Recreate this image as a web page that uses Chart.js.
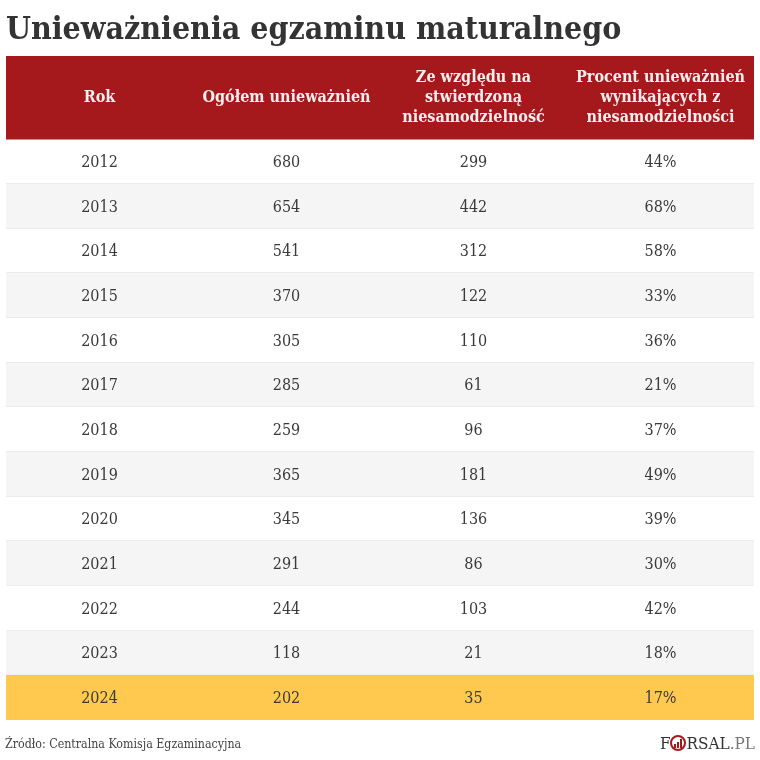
<!DOCTYPE html>
<html lang="pl">
<head>
    <meta charset="UTF-8">
    <title>Unieważnienia egzaminu maturalnego</title>
    <script src="https://cdn.jsdelivr.net/npm/chart.js"></script>
    <style>
        body { margin: 0; background: #fff; font-family: "DejaVu Serif Condensed", "DejaVu Serif", serif; color: #333; }
        .wrap { position: relative; width: 760px; height: 760px; overflow: hidden; }
        canvas { position: absolute; left: 0; top: 0; }
        h1 { position: absolute; left: 6px; top: 8px; margin: 0; font-size: 31.8px; line-height: 40px; font-weight: bold; white-space: nowrap; color: #333; }
        .source { position: absolute; left: 5px; top: 735px; font-size: 12.3px; line-height: 18px; color: #444; white-space: nowrap; }
        .logo { position: absolute; right: 5px; top: 732px; font-size: 17px; line-height: 22px; color: #333; white-space: nowrap; display: flex; align-items: center; }
        .logo span { color: #777; }
    </style>
</head>
<body>
    <div class="wrap">
        <canvas id="table" width="760" height="760"></canvas>
        <h1>Unieważnienia egzaminu maturalnego</h1>
        <div class="source">Źródło: Centralna Komisja Egzaminacyjna</div>
        <div class="logo">F<svg width="16" height="16" viewBox="0 0 16 16"><circle cx="8" cy="8" r="7" fill="none" stroke="#a5181c" stroke-width="2"/><path d="M4 9h2v4H4zM7 7h2v6H7zM10 4h2v9h-2z" fill="#a5181c"/></svg>RSAL<span>.PL</span></div>
    </div>

    <script>
        const years = ["2012", "2013", "2014", "2015", "2016", "2017", "2018", "2019", "2020", "2021", "2022", "2023", "2024"];
        const totals = [680, 654, 541, 370, 305, 285, 259, 365, 345, 291, 244, 118, 202];
        const nonIndependent = [299, 442, 312, 122, 110, 61, 96, 181, 136, 86, 103, 21, 35];
        const percents = [44, 68, 58, 33, 36, 21, 37, 49, 39, 30, 42, 18, 17];
        const headers = [
            ["Rok"],
            ["Ogółem unieważnień"],
            ["Ze względu na", "stwierdzoną", "niesamodzielność"],
            ["Procent unieważnień", "wynikających z", "niesamodzielności"]
        ];

        const rowColor = i => {
            if (i === years.length - 1) return "#ffc84f";
            return i % 2 === 1 ? "#f5f5f5" : "#ffffff";
        };

        // header band and the text of all cells, placed through the chart scales
        const tableText = {
            id: "tableText",
            afterDatasetsDraw(chart) {
                const ctx = chart.ctx;
                const x = chart.scales.x;
                const y = chart.scales.y;
                ctx.save();

                ctx.fillStyle = "#a5181c";
                ctx.fillRect(x.left, 56, x.width, y.top - 56);

                // thin separators under the rows
                ctx.fillStyle = "#ececec";
                years.forEach((year, i) => {
                    if (i < years.length - 1) {
                        ctx.fillRect(x.left, Math.round(y.getPixelForValue(i) + (y.height / years.length) / 2) - 1, x.width, 1);
                    }
                });

                ctx.textAlign = "center";
                ctx.textBaseline = "middle";

                ctx.fillStyle = "#f7eeee";
                ctx.font = "bold 16px 'DejaVu Serif Condensed'";
                const headerMid = (56 + y.top) / 2;
                headers.forEach((lines, col) => {
                    lines.forEach((line, n) => {
                        ctx.fillText(line, x.getPixelForValue(col + 0.5), headerMid + (n - (lines.length - 1) / 2) * 20);
                    });
                });

                ctx.fillStyle = "#3a3a3a";
                ctx.font = "16px 'DejaVu Serif Condensed'";
                years.forEach((year, i) => {
                    const py = y.getPixelForValue(i) + 1;
                    ctx.fillText(year, x.getPixelForValue(0.5), py);
                    ctx.fillText(String(totals[i]), x.getPixelForValue(1.5), py);
                    ctx.fillText(String(nonIndependent[i]), x.getPixelForValue(2.5), py);
                    ctx.fillText(percents[i] + "%", x.getPixelForValue(3.5), py);
                });
                ctx.restore();
            }
        };

        new Chart(document.getElementById("table").getContext("2d"), {
            type: "bar",
            data: {
                labels: years,
                datasets: [{
                    data: years.map(() => headers.length),
                    backgroundColor: years.map((year, i) => rowColor(i)),
                    barPercentage: 1,
                    categoryPercentage: 1,
                    borderWidth: 0
                }]
            },
            options: {
                indexAxis: "y",
                responsive: false,
                animation: false,
                devicePixelRatio: 1,
                layout: { padding: { left: 6, right: 6, top: 139.5, bottom: 40 } },
                plugins: { legend: { display: false }, tooltip: { enabled: false }, title: { display: false } },
                scales: {
                    x: { display: false, min: 0, max: headers.length },
                    y: { display: false }
                }
            },
            plugins: [tableText]
        });
    </script>
</body>
</html>
